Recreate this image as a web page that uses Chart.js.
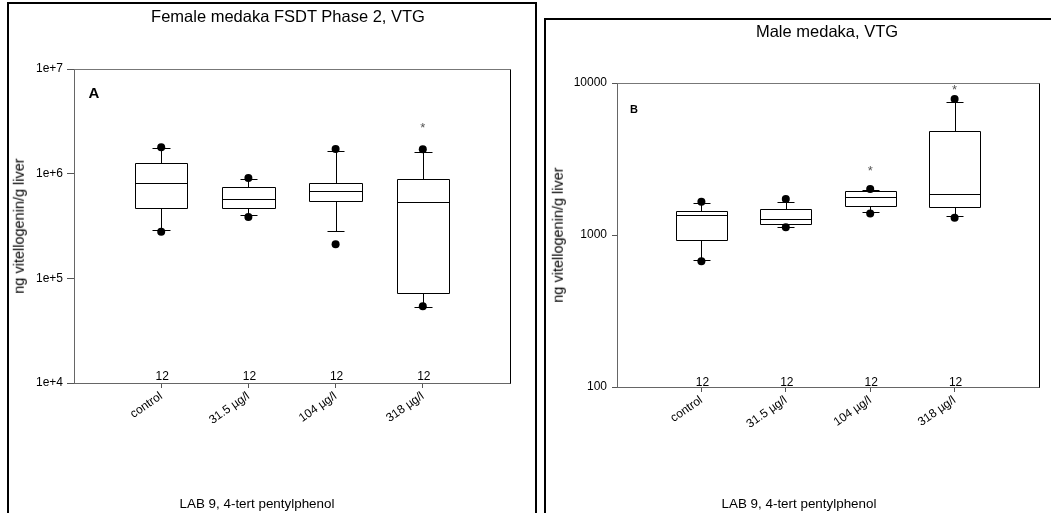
<!DOCTYPE html>
<html><head><meta charset="utf-8">
<script src="https://cdn.jsdelivr.net/npm/chart.js@4.4.1/dist/chart.umd.min.js"></script>
<style>
body{margin:0;width:1051px;height:513px;overflow:hidden;background:#fff;position:relative;font-family:"Liberation Sans",Arial,sans-serif;}
.frame{position:absolute;border:2px solid #000;box-sizing:border-box;}
canvas{position:absolute;top:0;}
.t{position:absolute;white-space:nowrap;color:#000;transform:translate(-50%,-50%);line-height:1;}
.rot{transform:translate(-50%,-50%) rotate(-90deg);}
</style></head>
<body>
<div class="frame" style="left:7px;top:2px;width:530px;height:600px;"></div>
<div class="frame" style="left:544px;top:18px;width:600px;height:600px;"></div>
<canvas id="cA" width="540" height="513" style="left:0px;"></canvas>
<canvas id="cB" width="511" height="513" style="left:540px;"></canvas>
<div class="t" style="left:288px;top:16px;font-size:16.5px;">Female medaka FSDT Phase 2, VTG</div>
<div class="t" style="left:827px;top:31px;font-size:16.5px;">Male medaka, VTG</div>
<div class="t" style="left:94px;top:92px;font-size:15px;font-weight:bold;">A</div>
<div class="t" style="left:634px;top:109px;font-size:11px;font-weight:bold;">B</div>
<div class="t rot" style="left:19px;top:226px;font-size:14.5px;">ng vitellogenin/g liver</div>
<div class="t rot" style="left:558px;top:235px;font-size:14.5px;">ng vitellogenin/g liver</div>
<div class="t" style="left:257px;top:504px;font-size:13.4px;">LAB 9, 4-tert pentylphenol</div>
<div class="t" style="left:799px;top:504px;font-size:13.4px;">LAB 9, 4-tert pentylphenol</div>
<script>
// ---------- data ----------
const categories = ['control', '31.5 µg/l', '104 µg/l', '318 µg/l'];
const nLabels = ['12', '12', '12', '12'];

// Panel A: female medaka VTG (ng/g liver)
const femaleP10    = [2.90e5, 4.00e5, 2.82e5, 5.37e4];
const femaleQ1     = [4.73e5, 4.70e5, 5.45e5, 7.26e4];
const femaleMedian = [8.10e5, 5.69e5, 6.84e5, 5.33e5];
const femaleQ3     = [1.27e6, 7.41e5, 8.10e5, 8.96e5];
const femaleP90    = [1.76e6, 8.90e5, 1.64e6, 1.60e6];
const femaleOutliers = [[2.79e5, 1.79e6], [3.86e5, 9.10e5], [2.12e5, 1.72e6], [5.40e4, 1.71e6]];
const femaleStars  = [null, null, null, 2.9e6];
const femaleYTicks = [1e4, 1e5, 1e6, 1e7];
const femaleYTickLabels = ['1e+4', '1e+5', '1e+6', '1e+7'];

// Panel B: male medaka VTG (ng/g liver)
const maleP10    = [688, 1135, 1408, 1340];
const maleQ1     = [927, 1181, 1552, 1519];
const maleMedian = [1355, 1274, 1786, 1849];
const maleQ3     = [1438, 1483, 1946, 4831];
const maleP90    = [1614, 1656, 1970, 7452];
const maleOutliers = [[671, 1656], [1125, 1726], [1387, 2009], [1300, 7852]];
const maleStars  = [null, null, 2730, 9310];
const maleYTicks = [100, 1000, 10000];
const maleYTickLabels = ['100', '1000', '10000'];

// ---------- drawing ----------
const FONT = '"Liberation Sans", Arial, sans-serif';

function boxPlugin(d) {
  return {
    id: 'boxes',
    beforeDatasetsDraw(chart) {
      const {ctx, scales: {x, y}, chartArea: a} = chart;
      ctx.save();
      ctx.strokeStyle = '#000';
      ctx.lineWidth = 1;
      const px = v => Math.round(v) + 0.5;
      for (let i = 0; i < categories.length; i++) {
        const c = i + 1;
        const xl = px(x.getPixelForValue(c - 0.3)), xr = px(x.getPixelForValue(c + 0.3));
        const xc = px(x.getPixelForValue(c));
        const cl = px(x.getPixelForValue(c - 0.1)), cr = px(x.getPixelForValue(c + 0.1));
        const yq1 = px(y.getPixelForValue(d.q1[i])), yq3 = px(y.getPixelForValue(d.q3[i]));
        const ym = px(y.getPixelForValue(d.med[i]));
        const y10 = px(y.getPixelForValue(d.p10[i])), y90 = px(y.getPixelForValue(d.p90[i]));
        ctx.beginPath();
        ctx.rect(xl, yq3, xr - xl, yq1 - yq3);
        ctx.moveTo(xl, ym); ctx.lineTo(xr, ym);
        ctx.moveTo(xc, yq3); ctx.lineTo(xc, y90);
        ctx.moveTo(cl, y90); ctx.lineTo(cr, y90);
        ctx.moveTo(xc, yq1); ctx.lineTo(xc, y10);
        ctx.moveTo(cl, y10); ctx.lineTo(cr, y10);
        ctx.stroke();
      }
      ctx.restore();
    },
    afterDraw(chart) {
      const {ctx, scales: {x, y}, chartArea: a} = chart;
      ctx.save();
      // plot frame top/right
      ctx.lineWidth = 1;
      ctx.strokeStyle = '#777';
      ctx.beginPath();
      ctx.moveTo(Math.round(a.left) + 0.5, Math.round(a.top) + 0.5);
      ctx.lineTo(Math.round(a.right) + 0.5, Math.round(a.top) + 0.5);
      ctx.stroke();
      ctx.strokeStyle = '#000';
      ctx.beginPath();
      ctx.moveTo(Math.round(a.right) + 0.5, Math.round(a.top) + 0.5);
      ctx.lineTo(Math.round(a.right) + 0.5, Math.round(a.bottom) + 0.5);
      ctx.stroke();
      // n labels
      ctx.fillStyle = '#000';
      ctx.font = '12px ' + FONT;
      ctx.textAlign = 'center';
      ctx.textBaseline = 'alphabetic';
      for (let i = 0; i < categories.length; i++) {
        ctx.fillText(nLabels[i], x.getPixelForValue(i + 1) + 1, a.bottom - d.nOff);
      }
      // significance marks
      ctx.fillStyle = '#555';
      ctx.textBaseline = 'middle';
      ctx.font = '13px ' + FONT;
      for (let i = 0; i < categories.length; i++) {
        if (d.stars[i] != null) ctx.fillText('*', x.getPixelForValue(i + 1), y.getPixelForValue(d.stars[i]) + 3);
      }
      ctx.restore();
    }
  };
}

function makePanel(id, d) {
  const pts = [];
  d.out.forEach((arr, i) => arr.forEach(v => pts.push({x: i + 1, y: v})));
  new Chart(document.getElementById(id), {
    type: 'scatter',
    data: {datasets: [{data: pts, pointRadius: 4, pointBackgroundColor: '#000', pointBorderColor: '#000', pointBorderWidth: 0}]},
    options: {
      responsive: false, animation: false, devicePixelRatio: 1,
      layout: {padding: {top: d.top, right: d.right, left: 0, bottom: 0}},
      plugins: {legend: {display: false}, tooltip: {enabled: false}},
      scales: {
        x: {
          type: 'linear', min: 0, max: 5,
          afterBuildTicks: s => { s.ticks = categories.map((c, i) => ({value: i + 1})); },
          ticks: {callback: v => categories[v - 1], maxRotation: 35, minRotation: 35, autoSkip: false,
                  font: {size: 12, family: FONT}, color: '#000', padding: 1},
          grid: {drawOnChartArea: false, tickLength: 5, color: '#555'},
          border: {color: '#666', width: 1},
          afterFit: s => { s.height = 513 - d.bottom; }
        },
        y: {
          type: 'logarithmic', min: d.yTicks[0], max: d.yTicks[d.yTicks.length - 1],
          afterBuildTicks: s => { s.ticks = d.yTicks.map(v => ({value: v})); },
          ticks: {callback: (v, i) => d.yLabels[d.yTicks.indexOf(v)], autoSkip: false,
                  font: {size: 12, family: FONT}, color: '#000', padding: d.yPad},
          grid: {drawOnChartArea: false, tickLength: d.yTick, color: '#555'},
          border: {color: '#666', width: 1},
          afterFit: s => { s.width = d.left; }
        }
      }
    },
    plugins: [boxPlugin(d)]
  });
}

makePanel('cA', {p10: femaleP10, q1: femaleQ1, med: femaleMedian, q3: femaleQ3, p90: femaleP90,
  out: femaleOutliers, stars: femaleStars, yTicks: femaleYTicks, yLabels: femaleYTickLabels,
  left: 74, right: 30, top: 69, bottom: 383, yTick: 7, yPad: 4, nOff: 3});
makePanel('cB', {p10: maleP10, q1: maleQ1, med: maleMedian, q3: maleQ3, p90: maleP90,
  out: maleOutliers, stars: maleStars, yTicks: maleYTicks, yLabels: maleYTickLabels,
  left: 77, right: 12, top: 83, bottom: 387, yTick: 5, yPad: 5, nOff: 1});
</script>
</body></html>
